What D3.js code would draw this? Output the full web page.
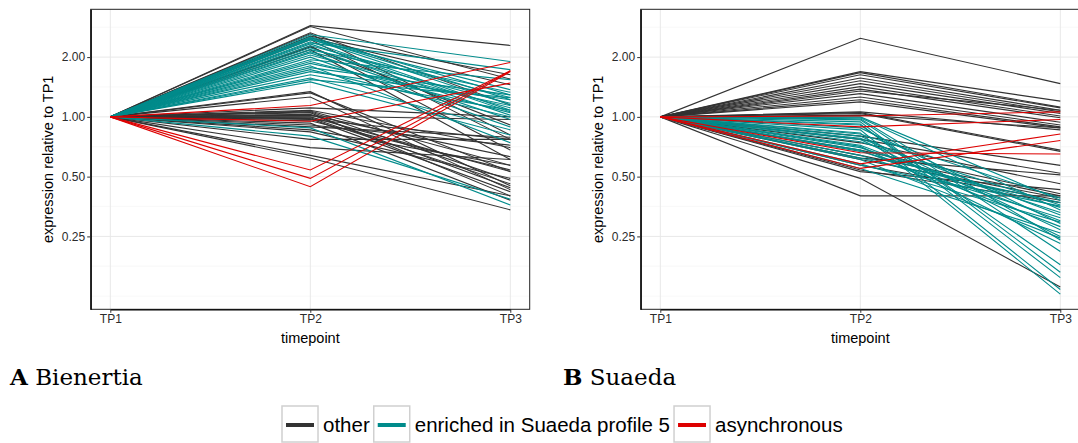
<!DOCTYPE html>
<html>
<head>
<meta charset="utf-8">
<script src="https://cdn.jsdelivr.net/npm/d3@7"></script>
<style>
  body { margin: 0; background: #fff; }
  text { font-family: "Liberation Sans", Arial, sans-serif; }
</style>
</head>
<body>
<svg id="chart" width="1078" height="443"></svg>
<script>
// timepoints and y breaks
var timepoints = ["TP1", "TP2", "TP3"];
var yBreaks = [0.25, 0.5, 1, 2];
var yMinor = [0.125, 0.177, 0.354, 0.707, 1.414, 2.828];

var groups = ["other", "enriched in Suaeda profile 5", "asynchronous"];
var groupColors = ["#333333", "#008b8b", "#dd0000"];

// Bienertia (TP1 is always 1)
var bienOtherTP2 = [2.88, 2.85, 2.65, 2.62, 2.55, 2.50, 2.45, 2.28, 2.25, 2.18, 1.34, 1.32, 1.26, 1.11, 1.08, 1.07, 1.06, 1.05, 1.03, 1.02, 1.01, 1.00, 0.99, 0.98, 0.97, 0.955, 0.93, 0.91, 0.89, 0.86, 0.84, 0.77, 0.70, 0.64, 0.62];
var bienOtherTP3 = [2.29, 1.55, 1.15, 0.81, 1.63, 1.45, 0.77, 0.68, 0.91, 0.61, 0.45, 0.53, 0.43, 1.00, 0.70, 0.57, 0.48, 0.40, 0.44, 0.63, 0.97, 0.53, 0.46, 0.42, 0.77, 0.54, 0.38, 0.72, 0.79, 0.57, 0.49, 0.77, 0.61, 0.40, 0.34];
var bienTealTP2 = [2.59, 2.53, 2.50, 2.47, 2.45, 2.39, 2.36, 2.33, 2.28, 2.23, 2.18, 2.13, 2.10, 2.05, 2.00, 1.94, 1.90, 1.86, 1.81, 1.77, 1.73, 1.69, 1.63, 1.57, 1.54, 1.50, 0.88, 0.80];
var bienTealTP3 = [1.90, 1.29, 1.22, 1.15, 1.37, 1.08, 1.73, 1.06, 1.25, 1.02, 1.33, 1.17, 0.97, 1.11, 0.89, 1.54, 1.05, 1.14, 0.74, 1.29, 1.00, 1.22, 1.08, 0.86, 1.25, 0.81, 0.36, 0.385];
var bienAsyncTP2 = [1.14, 0.95, 0.54, 0.49, 0.445];
var bienAsyncTP3 = [1.88, 1.48, 1.71, 1.70, 1.69];

// Suaeda
var suaOtherTP2 = [2.49, 1.69, 1.67, 1.63, 1.57, 1.52, 1.47, 1.42, 1.38, 1.35, 1.31, 1.26, 1.22, 1.19, 1.06, 1.05, 1.04, 1.02, 0.80, 0.77, 0.74, 0.68, 0.64, 0.62, 0.61, 0.57, 0.54, 0.53, 0.49, 0.40];
var suaOtherTP3 = [1.47, 1.20, 1.12, 1.11, 1.08, 1.06, 1.04, 1.01, 0.99, 1.08, 0.94, 0.91, 0.89, 0.88, 0.86, 0.68, 0.67, 0.88, 0.57, 0.52, 0.46, 0.41, 0.40, 0.51, 0.39, 0.38, 0.37, 0.43, 0.139, 0.40];
var suaTealTP2 = [1.00, 0.99, 0.977, 0.966, 0.944, 0.92, 0.91, 0.88, 0.86, 0.83, 0.82, 0.80, 0.78, 0.77, 0.75, 0.72, 0.71, 0.70, 0.68, 0.67, 0.64, 0.62, 0.61, 0.58, 0.57, 0.55];
var suaTealTP3 = [0.38, 0.34, 0.24, 0.21, 0.165, 0.155, 0.18, 0.29, 0.135, 0.128, 0.39, 0.27, 0.32, 0.25, 0.36, 0.30, 0.23, 0.33, 0.28, 0.35, 0.31, 0.37, 0.245, 0.295, 0.355, 0.26];
var suaAsyncTP2 = [1.01, 0.89, 0.58, 0.55, 0.66];
var suaAsyncTP3 = [1.06, 0.97, 0.82, 0.76, 0.65];

function toLines(tp2, tp3, g) {
    return tp2.map((v, i) => ({group: g, values: [1, v, tp3[i]]}));
}

var svg = d3.select("#chart");

// panel geometry
var panelW = 439, panelTop = 9.3, panelBottom = 309.3;

var y = d3.scaleLog().base(2)
    .domain([Math.pow(2, -3.22), Math.pow(2, 1.80)])
    .range([panelBottom, panelTop]);

function drawPanel(left, lines, label) {
    var g = svg.append("g");
    var x = d3.scalePoint()
        .domain(timepoints)
        .range([left + 19.6, left + 19.6 + 400]);

    // grid
    g.selectAll(".minor").data(yMinor).join("line")
        .attr("x1", left).attr("x2", left + panelW)
        .attr("y1", d => y(d)).attr("y2", d => y(d))
        .attr("stroke", "#f4f4f4").attr("stroke-width", 0.6);
    g.selectAll(".major").data(yBreaks).join("line")
        .attr("x1", left).attr("x2", left + panelW)
        .attr("y1", d => y(d)).attr("y2", d => y(d))
        .attr("stroke", "#e8e8e8").attr("stroke-width", 1);
    g.selectAll(".vgrid").data(timepoints).join("line")
        .attr("x1", d => x(d)).attr("x2", d => x(d))
        .attr("y1", panelTop).attr("y2", panelBottom)
        .attr("stroke", "#e8e8e8").attr("stroke-width", 1);

    var line = d3.line()
        .x((d, i) => x(timepoints[i]))
        .y(d => y(d));

    // lines, other first then teal then red on top
    g.append("g").selectAll("path").data(lines).join("path")
        .attr("d", d => line(d.values))
        .attr("fill", "none")
        .attr("stroke", d => groupColors[d.group])
        .attr("stroke-width", 1.1);

    // border
    g.append("rect")
        .attr("x", left).attr("y", panelTop)
        .attr("width", panelW).attr("height", panelBottom - panelTop)
        .attr("fill", "none").attr("stroke", "#222").attr("stroke-width", 1);

    // axes
    var yAxis = d3.axisLeft(y).tickValues(yBreaks)
        .tickFormat(d3.format(".2f")).tickSizeInner(3.5).tickSizeOuter(0).tickPadding(2);
    var ya = g.append("g").attr("transform", `translate(${left},0)`).call(yAxis);
    var xAxis = d3.axisBottom(x).tickSizeInner(3.5).tickSizeOuter(0).tickPadding(1.5);
    var xa = g.append("g").attr("transform", `translate(0,${panelBottom})`).call(xAxis);
    [ya, xa].forEach(a => {
        a.select(".domain").attr("stroke", "#000").attr("stroke-width", 1.3);
        a.selectAll(".tick line").attr("stroke", "#333");
        a.selectAll(".tick text").attr("fill", "#2b2b2b")
            .style("font-size", "12px")
            .style("font-family", "'Liberation Sans', Arial, sans-serif");
    });

    // axis titles
    g.append("text")
        .attr("transform", `translate(${left - 43},${(panelTop + panelBottom) / 2}) rotate(-90)`)
        .attr("text-anchor", "middle")
        .attr("dy", "0.35em")
        .style("font-size", "14.5px")
        .attr("fill", "#000")
        .text("expression relative to TP1");
    g.append("text")
        .attr("x", x("TP2")).attr("y", 343)
        .attr("text-anchor", "middle")
        .style("font-size", "14.5px")
        .text("timepoint");

    // panel label
    var lab = svg.append("text")
        .attr("x", label.x).attr("y", 385)
        .style("font-family", "'DejaVu Serif', serif")
        .style("font-size", "23px");
    lab.append("tspan").style("font-weight", "bold").text(label.letter);
    lab.append("tspan").text(" " + label.name);
}

var bienLines = toLines(bienOtherTP2, bienOtherTP3, 0)
    .concat(toLines(bienTealTP2, bienTealTP3, 1))
    .concat(toLines(bienAsyncTP2, bienAsyncTP3, 2));
var suaLines = toLines(suaOtherTP2, suaOtherTP3, 0)
    .concat(toLines(suaTealTP2, suaTealTP3, 1))
    .concat(toLines(suaAsyncTP2, suaAsyncTP3, 2));

drawPanel(90.7, bienLines, {x: 10, letter: "A", name: "Bienertia"});
drawPanel(640.7, suaLines, {x: 563, letter: "B", name: "Suaeda"});

// legend
var legend = svg.append("g");
var lx = 282;
groups.forEach((name, i) => {
    legend.append("rect")
        .attr("x", lx).attr("y", 406)
        .attr("width", 36).attr("height", 36)
        .attr("fill", "#fff").attr("stroke", "#d0d0d0").attr("stroke-width", 1.5);
    legend.append("line")
        .attr("x1", lx + 4).attr("x2", lx + 32)
        .attr("y1", 425).attr("y2", 425)
        .attr("stroke", groupColors[i]).attr("stroke-width", 4);
    var t = legend.append("text")
        .attr("x", lx + 41).attr("y", 432)
        .style("font-size", "20.5px")
        .text(name);
    lx = lx + 41 + t.node().getComputedTextLength() + 4;
});
</script>
</body>
</html>
